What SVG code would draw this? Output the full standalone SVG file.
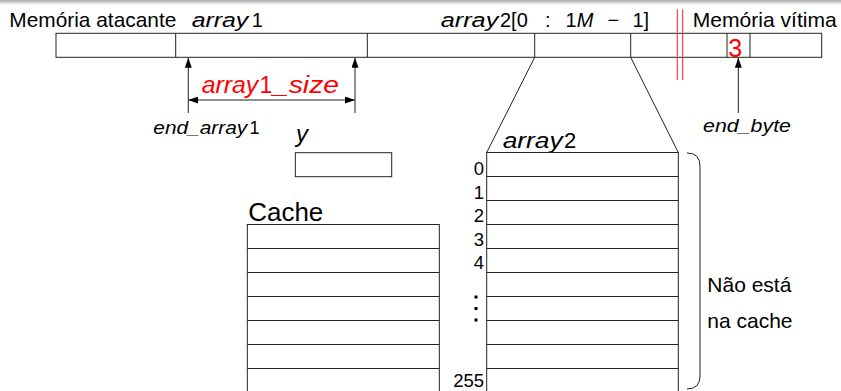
<svg xmlns="http://www.w3.org/2000/svg" width="841" height="391" viewBox="0 0 841 391">
<style>
  .ln{fill:none;stroke:#222;stroke-width:1}
  .red{fill:none;stroke:#f22;stroke-width:1}
  .t{font-family:"Liberation Sans",Arial,sans-serif;fill:#000}
  .i{font-style:italic}
  .r{fill:#f00}
</style>
<defs>
  <linearGradient id="topg" x1="0" y1="0" x2="0" y2="1">
    <stop offset="0" stop-color="#aaa"/>
    <stop offset="1" stop-color="#fff"/>
  </linearGradient>
  <marker id="ah" viewBox="0 0 10 7" refX="10" refY="3.5" markerWidth="10" markerHeight="7" orient="auto-start-reverse" markerUnits="userSpaceOnUse">
    <path d="M0,0 L10,3.5 L0,7 z" fill="#000"/>
  </marker>
</defs>
<rect width="841" height="391" fill="#fff"/>
<rect width="841" height="5" fill="url(#topg)"/>

<g id="memory-bar">
  <rect class="ln" x="56" y="33.3" width="765.7" height="24"/>
  <path class="ln" d="M175.7,33.3V57.3M367.3,33.3V57.3M534.7,33.3V57.3M630.7,33.3V57.3M727,33.3V57.3M750,33.3V57.3"/>
  <text class="t" x="9.3" y="26.7" font-size="21" textLength="167" lengthAdjust="spacingAndGlyphs">Memória atacante</text>
  <text class="t" x="692.7" y="26.7" font-size="21" textLength="144" lengthAdjust="spacingAndGlyphs">Memória vítima</text>
  <text class="t r" x="735.3" y="56.5" font-size="25" text-anchor="middle">3</text>
</g>

<g id="label-array1">
  <text class="t" font-size="20" y="26.7"><tspan class="i" x="191.7" textLength="56.6" lengthAdjust="spacingAndGlyphs">array</tspan><tspan x="251.7">1</tspan></text>
</g>

<g id="label-array2-range">
  <text class="t" font-size="20" y="26.7"><tspan class="i" x="440.7" textLength="57.6" lengthAdjust="spacingAndGlyphs">array</tspan><tspan x="500">2[0</tspan><tspan x="545">:</tspan><tspan x="565.5">1</tspan><tspan class="i" x="576.7">M</tspan><tspan x="607.5">−</tspan><tspan x="632.5">1]</tspan></text>
</g>

<g id="separator">
  <path class="red" d="M677.3,9.3V80M682.7,9.3V80"/>
</g>

<g id="label-array1-size">
  <text class="t r" font-size="23" y="93.3"><tspan class="i" x="201.7" textLength="56.6" lengthAdjust="spacingAndGlyphs">array</tspan><tspan x="259.5">1</tspan><tspan class="i" x="273" textLength="66" lengthAdjust="spacingAndGlyphs">_size</tspan></text>
</g>

<g id="label-end-array1">
  <text class="t" font-size="18" y="134"><tspan class="i" x="153.3" textLength="94" lengthAdjust="spacingAndGlyphs">end_array</tspan><tspan x="249.5">1</tspan></text>
</g>

<g id="label-end-byte">
  <text class="t i" font-size="18" x="703" y="131.7" textLength="88" lengthAdjust="spacingAndGlyphs">end_byte</text>
</g>

<g id="y-box">
  <text class="t i" font-size="24" x="296" y="141.5">y</text>
  <rect class="ln" x="295.3" y="152.7" width="96.4" height="24"/>
</g>

<g id="cache">
  <text class="t" font-size="25.5" x="248.3" y="221" textLength="75" lengthAdjust="spacingAndGlyphs">Cache</text>
  <rect class="ln" x="247.3" y="224.5" width="192" height="168"/>
  <path class="ln" d="M247.3,248.5H439.3M247.3,272.5H439.3M247.3,296.5H439.3M247.3,320.5H439.3M247.3,344.5H439.3M247.3,368.5H439.3"/>
</g>

<g id="array2">
  <text class="t" font-size="22" y="147.7"><tspan class="i" x="502.7" textLength="60" lengthAdjust="spacingAndGlyphs">array</tspan><tspan x="564">2</tspan></text>
  <rect class="ln" x="486.7" y="152.5" width="191.6" height="240"/>
  <path class="ln" d="M486.7,176.5H678.3M486.7,200.5H678.3M486.7,224.5H678.3M486.7,248.5H678.3M486.7,272.5H678.3M486.7,296.5H678.3M486.7,320.5H678.3M486.7,344.5H678.3M486.7,368.5H678.3"/>
  <g class="t" font-size="18.5" text-anchor="end">
    <text x="484" y="175">0</text>
    <text x="484" y="198.5">1</text>
    <text x="484" y="222">2</text>
    <text x="484" y="245.5">3</text>
    <text x="484" y="268.5">4</text>
    <text x="484" y="386.5">255</text>
  </g>
  <g fill="#000">
    <rect x="474.5" y="295.5" width="3" height="3"/>
    <rect x="474.5" y="307" width="3" height="3"/>
    <rect x="474.5" y="318.5" width="3" height="3"/>
  </g>
</g>

<g id="not-in-cache">
  <path class="ln" d="M687,153 Q700,153 700,166 V376 Q700,389 687,389"/>
  <text class="t" font-size="21" x="707.3" y="292.3">Não está</text>
  <text class="t" font-size="21" x="707.3" y="328.3">na cache</text>
</g>

<g id="connectors">
  <path class="ln" d="M188.3,113V57.8" marker-end="url(#ah)"/>
  <path class="ln" d="M355,113V57.8" marker-end="url(#ah)"/>
  <path class="ln" d="M188.3,100H355" marker-start="url(#ah)" marker-end="url(#ah)"/>
  <path class="ln" d="M738.3,113V57.8" marker-end="url(#ah)"/>
  <path class="ln" d="M534.7,57.3L486.7,152.5"/>
  <path class="ln" d="M630.7,57.3L678.3,152.5"/>
</g>
</svg>
